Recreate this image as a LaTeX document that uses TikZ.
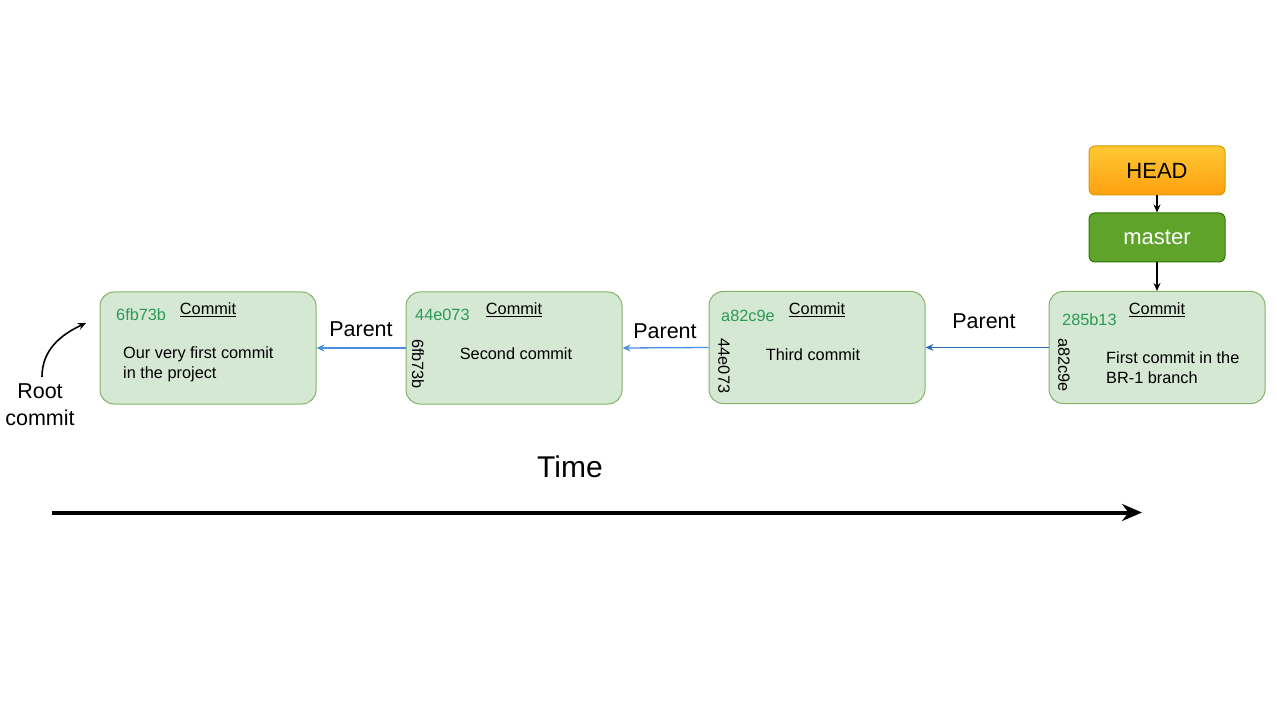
\documentclass[tikz,border=0pt]{standalone}
\usepackage{fontspec}
\setmainfont{Liberation Sans}
\usetikzlibrary{arrows.meta,positioning}

\definecolor{commitfill}{HTML}{D5E8D4}
\definecolor{commitline}{HTML}{82B366}
\definecolor{hashgreen}{HTML}{2A9A55}
\definecolor{parentblue}{HTML}{4A90E2}
\definecolor{parentdark}{HTML}{2B6CB0}
\definecolor{headtop}{HTML}{FFC933}
\definecolor{headbot}{HTML}{FFA010}
\definecolor{headline}{HTML}{D79B00}
\definecolor{masterfill}{HTML}{5FA32A}
\definecolor{masterline}{HTML}{2D7600}

\tikzset{
  commit/.style={draw=commitline, fill=commitfill, line width=1pt,
    rounded corners=14pt, minimum width=216pt, minimum height=112pt},
  small/.style={font=\fontsize{16.3}{20}\selectfont, inner sep=0pt},
  hash/.style={small, text=hashgreen},
  parenthash/.style={small, rotate=-90},
  big/.style={font=\fontsize{21.5}{27}\selectfont, inner sep=0pt},
  parent/.style={parentblue, line width=1.3pt, -{Stealth[length=8pt,width=7pt]}},
  ref/.style={black, line width=1.3pt, -{Stealth[length=8pt,width=7pt]}},
  refbox/.style={draw=#1, line width=1pt, rounded corners=6pt,
    minimum width=136pt, minimum height=49pt, font=\fontsize{22}{26}\selectfont}
}

\begin{document}
\begin{tikzpicture}[x=1pt,y=-1pt]
    \useasboundingbox (0,0) rectangle (1277,719);

    % commits
    \node[commit] (c1) at (208,348) {};
    \node[commit] (c2) at (514,348) {};
    \node[commit] (c3) at (817,347.5) {};
    \node[commit] (c4) at (1157,347.5) {};

    \node[small] (t1) at (208,310) {\underline{Commit}};
    \node[small] (t2) at (514,310) {\underline{Commit}};
    \node[small] (t3) at (817,310) {\underline{Commit}};
    \node[small] (t4) at (1157,310) {\underline{Commit}};

    \node[hash,anchor=west] (h1) at (116,315) {6fb73b};
    \node[hash,anchor=west] (h2) at (415,315) {44e073};
    \node[hash,anchor=west] (h3) at (721,316) {a82c9e};
    \node[hash,anchor=west] (h4) at (1062,320) {285b13};

    \node[parenthash] (ph2) at (418,364) {6fb73b};
    \node[parenthash] (ph3) at (724,366) {44e073};
    \node[parenthash] (ph4) at (1064,365) {a82c9e};

    \node[small,anchor=west,align=left] (m1) at (123,364.5) {Our very first commit\\in the project};
    \node[small] (m2) at (516,354) {Second commit};
    \node[small] (m3) at (813,355) {Third commit};
    \node[small,anchor=west,align=left] (m4) at (1106,367.5) {First commit in the\\BR-1 branch};

    % parent links
    \draw[parent] (c2.west) -- (c1.east);
    \draw[parent] (c3.west) -- (c2.east);
    \draw[parent,parentdark] (c4.west) -- (c3.east);
    \node[big] (p1) at (361,329) {Parent};
    \node[big] (p2) at (665,331) {Parent};
    \node[big] (p3) at (984,321) {Parent};

    % HEAD and master
    \node[refbox=headline, top color=headtop, bottom color=headbot] (head) at (1157,170.5) {HEAD};
    \node[refbox=masterline, fill=masterfill, text=white] (master) at (1157,237.5) {master};
    \draw[ref] (head) -- (master);
    \draw[ref] (master) -- (c4);

    % root commit
    \node[big,align=center] (root) at (40,405) {Root\\commit};
    \coordinate (rootend) at (86,323);
    \draw[ref,line width=1.6pt] ([xshift=2pt,yshift=7pt]root.north) to[out=90,in=205] (rootend);

    % time axis
    \node[font=\fontsize{30}{36}\selectfont, inner sep=0pt] (time) at (570,467) {Time};
    \coordinate (tstart) at (52,512.5);
    \coordinate (tend) at (1142,512.5);
    \draw[line width=4pt, -{Stealth[length=20pt,width=17pt]}] (tstart) -- (tend);
\end{tikzpicture}
\end{document}
